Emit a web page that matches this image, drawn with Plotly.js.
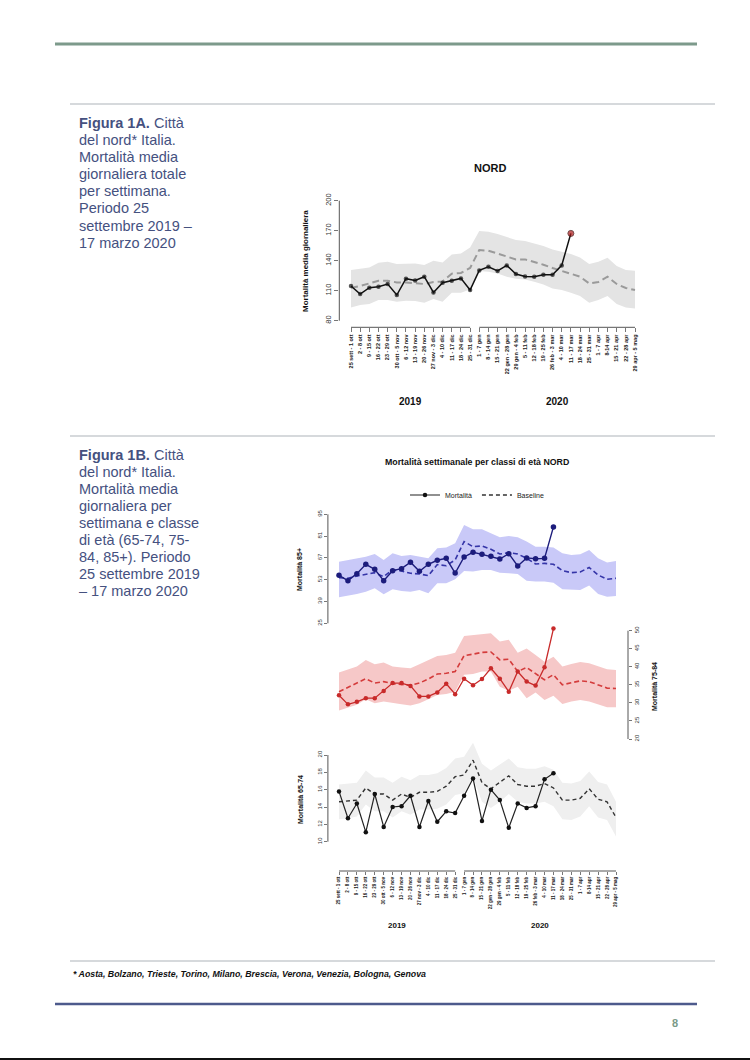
<!DOCTYPE html>
<html><head><meta charset="utf-8">
<script src="https://cdn.plot.ly/plotly-3.0.1.min.js"></script>
<style>html,body{margin:0;padding:0;background:#fff}#chart{width:750px;height:1060px}</style>
</head><body><div id="chart"></div>
<script>
// ---------- tick labels (weeks) ----------
const weeks2019 = ["25 sett - 1 ott","2 - 8 ott","9 - 15 ott","16 - 22 ott","23 - 29 ott","30 ott - 5 nov","6 - 12 nov","13 - 19 nov","20 - 26 nov","27 nov - 3 dic","4 - 10 dic","11 - 17 dic","18 - 24 dic","25 - 31 dic"];
const weeks2020 = ["1 - 7 gen","8 - 14 gen","15 - 21 gen","22 gen - 28 gen","29 gen - 4 feb","5 - 11 feb","12 - 18 feb","19 - 25 feb","26 feb - 3 mar","4 - 10 mar","11 - 17 mar","18 - 24 mar","25 - 31 mar","1 - 7 apr","8-14 apr","15 - 21 apr","22 - 28 apr","29 apr - 5 mag"];
const weeks = weeks2019.concat(weeks2020);

// ---------- Figura 1A: mortalità media giornaliera totale ----------
const A_mort = [114.7,106.7,113,114,116.7,105.7,122,120.3,124,108.3,118,120,122.3,110.7,130.3,134,129.7,135.3,126.7,124.3,124,126,126,135.3,167.3];
const A_base = [113,114.7,117.3,120,120,118.3,118.3,117.3,116.7,118.7,119.3,127,127.7,132.7,150.7,150,147.3,144,141.3,141.3,138.7,136,132.7,130,127.3,124,117.3,118.7,124,116.7,112.7,110.7];
const A_up   = [130.7,132.3,133.3,138,139,136.7,137.3,137.3,135.7,140,138.3,146.3,147.3,153.3,169.7,169,166.7,164,160.7,159.7,157.3,154.7,151.3,149,146.7,143.3,136.7,139,143,134.7,130.7,130];
const A_lo   = [93.3,95.7,96.7,100.7,100.7,99,100,99.7,98,101.7,99,108,108,111.3,129.7,129,127.3,124,122,121.3,119,116.3,112.3,110.7,108,104.7,98,100.7,104.7,96.7,93.3,92.3];
const A_yticks = [80,110,140,170,200];

// ---------- Figura 1B: 85+ ----------
const B85_mort = [55.8,52.4,56.9,62.9,59.7,52.4,58.8,60.1,64.2,58.4,62.9,65.5,66.7,57.3,67.6,70.6,69.3,68.0,66.3,69.7,61.8,67.0,66.5,66.7,86.9];
const B85_base = [54.3,53.9,55.4,56.5,57.5,55.0,59.3,58.6,57.1,56.7,55.6,62.7,62.0,65.7,77.5,74.2,74.7,72.5,69.5,70.4,69.5,66.7,63.1,63.5,62.9,58.8,57.5,58.0,60.8,56.0,53.3,53.9];
const B85_up   = [64.6,65.7,66.7,67.8,69.5,65.7,70,68.2,68.9,67.8,66.7,73.2,73.6,76.4,88.2,85.4,85.4,82.8,80.2,81.1,80.2,77.5,74.2,74.2,73.6,70,68.9,69.3,72.1,66.7,64,65];
const B85_lo   = [41.7,42.6,43.8,45.3,47.5,43.6,46.8,45.8,45.3,46.4,44.3,50.7,50.7,53.3,58.6,58.2,59.3,59.3,57.5,57.1,56.7,52.4,51.8,51.8,51.1,46.8,46.4,46.4,49.2,43.8,42.1,42.6];
const B85_yticks = [25,39,53,67,81,95];

// ---------- Figura 1B: 75-84 ----------
const B75_mort = [32.1,29.6,30.3,31.3,31.3,33.3,35.5,35.5,34.7,31.8,31.8,32.9,35.3,32.4,36.7,34.9,36.6,39.6,36.7,33.1,38.7,35.9,34.8,39.9,50.6];
const B75_base = [33.1,34.3,35.3,36.7,35.5,35.9,35.3,35.0,34.9,35.5,36.6,38.0,38.2,38.7,43.1,43.5,44.0,44.1,41.9,42.1,38.7,39.8,38.0,36.4,37.8,35.0,35.6,36.1,35.9,34.9,34.1,34.0];
const B75_up   = [38.4,39.3,40.1,41.9,40.7,41.2,40.1,39.8,39.6,40.7,41.9,43.0,43.3,43.9,48.5,48.8,49.1,49.3,47.0,47.5,43.9,45.1,43.3,41.4,42.8,40.1,40.8,41.3,41.0,40.1,39.3,39.1];
const B75_lo   = [27.9,28.8,29.5,31.0,29.9,30.4,29.9,29.6,29.3,29.9,31.0,32.2,32.5,33.1,37.8,38.0,38.7,38.7,34.5,33.4,34.5,31.3,32.9,30.8,32.0,29.7,30.4,30.8,30.4,29.5,28.8,28.8];
const B75_yticks = [20,25,30,35,40,45,50];

// ---------- Figura 1B: 65-74 ----------
const B65_mort = [15.8,12.7,14.4,11.1,15.5,11.7,14.0,14.1,15.3,11.7,14.7,12.3,13.5,13.3,15.3,17.3,12.4,16.0,14.8,11.6,14.4,13.9,14.1,17.2,17.9];
const B65_base = [14.6,14.7,14.8,16.2,15.5,15.5,14.8,15.5,15.1,15.7,15.7,15.8,16.4,17.5,17.7,19.4,16.8,16.1,16.8,17.6,16.6,16.4,16.4,16.7,16.2,14.8,14.8,15.0,16.1,14.9,14.6,12.8];
const B65_up   = [16.6,16.7,16.8,18.2,17.4,17.4,16.8,17.5,17.1,17.7,17.7,17.9,18.5,19.6,19.8,21.4,19.0,18.2,18.9,19.6,18.6,18.4,18.4,18.7,18.3,16.8,16.7,17.0,18.1,16.9,16.6,14.6];
const B65_lo   = [12.6,12.7,12.9,14.3,13.5,13.5,12.8,13.5,13.1,13.7,13.7,13.8,14.3,15.4,15.6,17.4,14.6,13.9,14.6,15.5,14.6,14.4,14.4,14.6,14.1,12.6,12.5,12.9,14.1,12.8,12.5,10.6];
const B65_yticks = [10,12,14,16,18,20];

// ---------- page texts ----------
const textA = ["<b>Figura 1A.</b> Città","del nord* Italia.","Mortalità media","giornaliera totale","per settimana.","Periodo 25","settembre 2019 –","17 marzo 2020"];
const textB = ["<b>Figura 1B.</b> Città","del nord* Italia.","Mortalità media","giornaliera per","settimana e classe","di età (65-74, 75-","84, 85+). Periodo","25 settembre 2019","– 17 marzo 2020"];
const footnote = "* Aosta, Bolzano, Trieste, Torino, Milano, Brescia, Verona, Venezia, Bologna, Genova";

// ---------- helpers (page pixels -> paper) ----------
const W = 750, H = 1060;
const PX = x => x / W;
const PY = y => 1 - y / H;
function yRange(v1, p1, v2, p2, top, bot) {
  const k = (p1 - p2) / (v2 - v1);
  return [v1 - (bot - p1) / k, v2 + (p2 - top) / k];
}
function xRange(p0, pN, n, left, right) {
  const k = (pN - p0) / (n - 1);
  return [-(p0 - left) / k, (n - 1) + (right - pN) / k];
}
const FONT = 'Liberation Sans, Arial, Helvetica, sans-serif';
const sub = (arr, n) => arr.slice(0, n);

function bandTraces(lo, up, xa, ya, fill) {
  return [
    {x: weeks, y: lo, xaxis: xa, yaxis: ya, mode: 'lines', line: {width: 0, color: fill}, showlegend: false, hoverinfo: 'skip'},
    {x: weeks, y: up, xaxis: xa, yaxis: ya, mode: 'lines', line: {width: 0, color: fill}, fill: 'tonexty', fillcolor: fill, showlegend: false, hoverinfo: 'skip'}
  ];
}

const traces = [];
// 1A
traces.push(...bandTraces(A_lo, A_up, 'x', 'y', '#e4e4e4'));
traces.push({x: weeks, y: A_base, xaxis: 'x', yaxis: 'y', mode: 'lines', line: {color: '#9a9a9a', width: 2, dash: '7px,4px'}, showlegend: false});
traces.push({x: sub(weeks, A_mort.length), y: A_mort, xaxis: 'x', yaxis: 'y', mode: 'lines+markers',
  line: {color: '#111', width: 1.5},
  marker: {size: A_mort.map((v, i) => i === A_mort.length - 1 ? 6 : 4.5),
           color: A_mort.map((v, i) => i === A_mort.length - 1 ? '#b01818' : '#111'),
           line: {width: A_mort.map((v, i) => i === A_mort.length - 1 ? 1 : 0), color: '#3a0000'}},
  showlegend: false, cliponaxis: false});
// 1B 85+
traces.push(...bandTraces(B85_lo, B85_up, 'x2', 'y2', '#c9c9f8'));
traces.push({x: weeks, y: B85_base, xaxis: 'x2', yaxis: 'y2', mode: 'lines', line: {color: '#3535a8', width: 1.6, dash: '5px,3px'}, showlegend: false});
traces.push({x: sub(weeks, B85_mort.length), y: B85_mort, xaxis: 'x2', yaxis: 'y2', mode: 'lines+markers', line: {color: '#1c1c7c', width: 1.4}, marker: {size: 5.5, color: '#1c1c7c'}, showlegend: false, cliponaxis: false});
// 1B 75-84
traces.push(...bandTraces(B75_lo, B75_up, 'x2', 'y3', '#f6c8c8'));
traces.push({x: weeks, y: B75_base, xaxis: 'x2', yaxis: 'y3', mode: 'lines', line: {color: '#d43c3c', width: 1.6, dash: '5px,3px'}, showlegend: false});
traces.push({x: sub(weeks, B75_mort.length), y: B75_mort, xaxis: 'x2', yaxis: 'y3', mode: 'lines+markers', line: {color: '#c82a2a', width: 1.3}, marker: {size: 4.5, color: '#c82a2a'}, showlegend: false, cliponaxis: false});
// 1B 65-74
traces.push(...bandTraces(B65_lo, B65_up, 'x2', 'y4', '#efefef'));
traces.push({x: weeks, y: B65_base, xaxis: 'x2', yaxis: 'y4', mode: 'lines', name: 'Baseline', line: {color: '#333', width: 1.4, dash: '4px,3px'}, showlegend: true});
traces.push({x: sub(weeks, B65_mort.length), y: B65_mort, xaxis: 'x2', yaxis: 'y4', mode: 'lines+markers', name: 'Mortalità', line: {color: '#222', width: 1.2}, marker: {size: 4.5, color: '#111'}, showlegend: true, cliponaxis: false});

// ---------- axes geometry ----------
const A_dom = {left: 339.3, right: 646, top: 195, bot: 327.3};
const A_xr = xRange(351, 635, weeks.length, A_dom.left, A_dom.right);
const A_yr = yRange(80, 320.7, 200, 200.7, A_dom.top, A_dom.bot);

const B_dom = {left: 327.9, right: 628, top: 505, bot: 871};
const B_xr = xRange(339, 616, weeks.length, B_dom.left, B_dom.right);
const B85_yr = yRange(25, 623.3, 95, 514.3, B_dom.top, B_dom.bot);
const B75_yr = yRange(20, 739, 50, 630.7, B_dom.top, B_dom.bot);
const B65_yr = yRange(10, 841.7, 20, 755, B_dom.top, B_dom.bot);

const axisCol = '#555';
function xAxis(dom, rng, anchor, fsize, tlen) {
  return {domain: [PX(dom.left), PX(dom.right)], range: rng, anchor: anchor, type: 'category',
    categoryorder: 'array', categoryarray: weeks, tickmode: 'array', tickvals: weeks, ticktext: weeks,
    tickangle: -90, ticks: 'outside', ticklen: tlen, tickwidth: 0.8, tickcolor: axisCol,
    tickfont: {size: fsize, family: FONT, color: '#222', weight: 'bold'},
    showline: false, showgrid: false, zeroline: false, fixedrange: true};
}
function yAxis(extra, rng, tv, fsize, tlen) {
  return Object.assign({range: rng, tickmode: 'array', tickvals: tv, tickangle: -90, ticks: 'outside',
    ticklen: tlen, tickwidth: 0.8, tickcolor: axisCol, tickfont: {size: fsize, family: FONT, color: '#333'},
    showline: false, showgrid: false, zeroline: false, fixedrange: true}, extra);
}

const shapes = [
  // page rules
  {type: 'line', xref: 'paper', yref: 'paper', x0: PX(55), x1: PX(697), y0: PY(44), y1: PY(44), line: {color: '#7d9a8b', width: 3}},
  {type: 'line', xref: 'paper', yref: 'paper', x0: PX(70), x1: PX(715), y0: PY(104), y1: PY(104), line: {color: '#c9cdd1', width: 1.5}},
  {type: 'line', xref: 'paper', yref: 'paper', x0: PX(70), x1: PX(715), y0: PY(436), y1: PY(436), line: {color: '#c9cdd1', width: 1.5}},
  {type: 'line', xref: 'paper', yref: 'paper', x0: PX(70), x1: PX(715), y0: PY(961), y1: PY(961), line: {color: '#c9cdd1', width: 1.5}},
  {type: 'line', xref: 'paper', yref: 'paper', x0: PX(55), x1: PX(697), y0: PY(1004), y1: PY(1004), line: {color: '#4d5a8c', width: 2.5}},
  {type: 'line', xref: 'paper', yref: 'paper', x0: 0, x1: 1, y0: PY(1059), y1: PY(1059), line: {color: '#111', width: 2}},
  // 1A axes (R style: line only between extreme ticks)
  {type: 'line', xref: 'x domain', x0: 0, x1: 0, yref: 'y', y0: A_yticks[0], y1: A_yticks[A_yticks.length - 1], line: {color: axisCol, width: 1}},
  {type: 'line', xref: 'x', x0: 0, x1: weeks2019.length - 1, yref: 'y domain', y0: 0, y1: 0, line: {color: axisCol, width: 1}},
  {type: 'line', xref: 'x', x0: weeks2019.length, x1: weeks.length - 1, yref: 'y domain', y0: 0, y1: 0, line: {color: axisCol, width: 1}},
  // 1B axes
  {type: 'line', xref: 'x2 domain', x0: 0, x1: 0, yref: 'y2', y0: B85_yticks[0], y1: B85_yticks[B85_yticks.length - 1], line: {color: axisCol, width: 1}},
  {type: 'line', xref: 'x2 domain', x0: 1, x1: 1, yref: 'y3', y0: B75_yticks[0], y1: B75_yticks[B75_yticks.length - 1], line: {color: axisCol, width: 1}},
  {type: 'line', xref: 'x2 domain', x0: 0, x1: 0, yref: 'y4', y0: B65_yticks[0], y1: B65_yticks[B65_yticks.length - 1], line: {color: axisCol, width: 1}},
  {type: 'line', xref: 'x2', x0: 0, x1: weeks2019.length - 1, yref: 'y2 domain', y0: 0, y1: 0, line: {color: axisCol, width: 1}},
  {type: 'line', xref: 'x2', x0: weeks2019.length, x1: weeks.length - 1, yref: 'y2 domain', y0: 0, y1: 0, line: {color: axisCol, width: 1}}
];

const textCol = '#45517f';
const annotations = [];
textA.forEach((t, i) => annotations.push({text: t, xref: 'paper', yref: 'paper', x: PX(77), y: PY(123 + i * 17.1), xanchor: 'left', yanchor: 'middle', showarrow: false, font: {family: FONT, size: 14.5, color: textCol}}));
textB.forEach((t, i) => annotations.push({text: t, xref: 'paper', yref: 'paper', x: PX(77), y: PY(455 + i * 17.0), xanchor: 'left', yanchor: 'middle', showarrow: false, font: {family: FONT, size: 14.5, color: textCol}}));
annotations.push({text: footnote, xref: 'paper', yref: 'paper', x: PX(71), y: PY(974), xanchor: 'left', yanchor: 'middle', showarrow: false, font: {family: FONT, size: 8.8, color: '#111', weight: 'bold', style: 'italic'}});
annotations.push({text: '8', xref: 'paper', yref: 'paper', x: PX(675), y: PY(1023), xanchor: 'center', yanchor: 'middle', showarrow: false, font: {family: FONT, size: 11, color: '#7a9a88', weight: 'bold'}});
// chart titles
annotations.push({text: '<b>NORD</b>', xref: 'paper', yref: 'paper', x: PX(490), y: PY(168), xanchor: 'center', yanchor: 'middle', showarrow: false, font: {family: FONT, size: 11, color: '#111'}});
annotations.push({text: '<b>Mortalità settimanale per classi di età NORD</b>', xref: 'paper', yref: 'paper', x: PX(477), y: PY(462), xanchor: 'center', yanchor: 'middle', showarrow: false, font: {family: FONT, size: 8.8, color: '#111'}});
// axis titles
annotations.push({text: '<b>Mortalità media giornaliera</b>', textangle: -90, xref: 'paper', yref: 'paper', x: PX(305), y: PY(261), xanchor: 'center', yanchor: 'middle', showarrow: false, font: {family: FONT, size: 8, color: '#111'}});
annotations.push({text: '<b>Mortalità 85+</b>', textangle: -90, xref: 'paper', yref: 'paper', x: PX(299), y: PY(570), xanchor: 'center', yanchor: 'middle', showarrow: false, font: {family: FONT, size: 7, color: '#111'}});
annotations.push({text: '<b>Mortalità 75-84</b>', textangle: -90, xref: 'paper', yref: 'paper', x: PX(654), y: PY(687), xanchor: 'center', yanchor: 'middle', showarrow: false, font: {family: FONT, size: 7, color: '#111'}});
annotations.push({text: '<b>Mortalità 65-74</b>', textangle: -90, xref: 'paper', yref: 'paper', x: PX(300), y: PY(800), xanchor: 'center', yanchor: 'middle', showarrow: false, font: {family: FONT, size: 7, color: '#111'}});
// year labels centred under each group of weeks
const c19 = (weeks2019.length - 1) / 2, c20 = weeks2019.length + (weeks2020.length - 1) / 2;
annotations.push({text: '<b>2019</b>', xref: 'x', yref: 'paper', x: c19, y: PY(401.7), xanchor: 'center', yanchor: 'middle', showarrow: false, font: {family: FONT, size: 10, color: '#111'}});
annotations.push({text: '<b>2020</b>', xref: 'x', yref: 'paper', x: c20, y: PY(401.7), xanchor: 'center', yanchor: 'middle', showarrow: false, font: {family: FONT, size: 10, color: '#111'}});
annotations.push({text: '<b>2019</b>', xref: 'x2', yref: 'paper', x: c19, y: PY(925), xanchor: 'center', yanchor: 'middle', showarrow: false, font: {family: FONT, size: 8, color: '#111'}});
annotations.push({text: '<b>2020</b>', xref: 'x2', yref: 'paper', x: c20, y: PY(925), xanchor: 'center', yanchor: 'middle', showarrow: false, font: {family: FONT, size: 8, color: '#111'}});

const layout = {
  width: W, height: H, margin: {l: 0, r: 0, t: 0, b: 0, pad: 0},
  paper_bgcolor: '#ffffff', plot_bgcolor: 'rgba(0,0,0,0)',
  font: {family: FONT, color: '#222'},
  showlegend: true,
  legend: {orientation: 'h', x: PX(477), xanchor: 'center', y: PY(495), yanchor: 'middle', traceorder: 'reversed',
    font: {family: FONT, size: 7, color: '#222'}, bgcolor: 'rgba(0,0,0,0)', itemwidth: 30, tracegroupgap: 0},
  xaxis: xAxis(A_dom, A_xr, 'y', 5.5, 4),
  yaxis: yAxis({domain: [PY(A_dom.bot), PY(A_dom.top)], anchor: 'x'}, A_yr, A_yticks, 7.5, 4),
  xaxis2: xAxis(B_dom, B_xr, 'y2', 4.5, 3),
  yaxis2: yAxis({domain: [PY(B_dom.bot), PY(B_dom.top)], anchor: 'x2'}, B85_yr, B85_yticks, 6, 3),
  yaxis3: yAxis({overlaying: 'y2', side: 'right', anchor: 'x2'}, B75_yr, B75_yticks, 6, 3),
  yaxis4: yAxis({overlaying: 'y2', side: 'left', anchor: 'x2'}, B65_yr, B65_yticks, 6, 3),
  shapes: shapes,
  annotations: annotations
};

Plotly.newPlot('chart', traces, layout, {displayModeBar: false, staticPlot: true});
</script>
</body></html>
